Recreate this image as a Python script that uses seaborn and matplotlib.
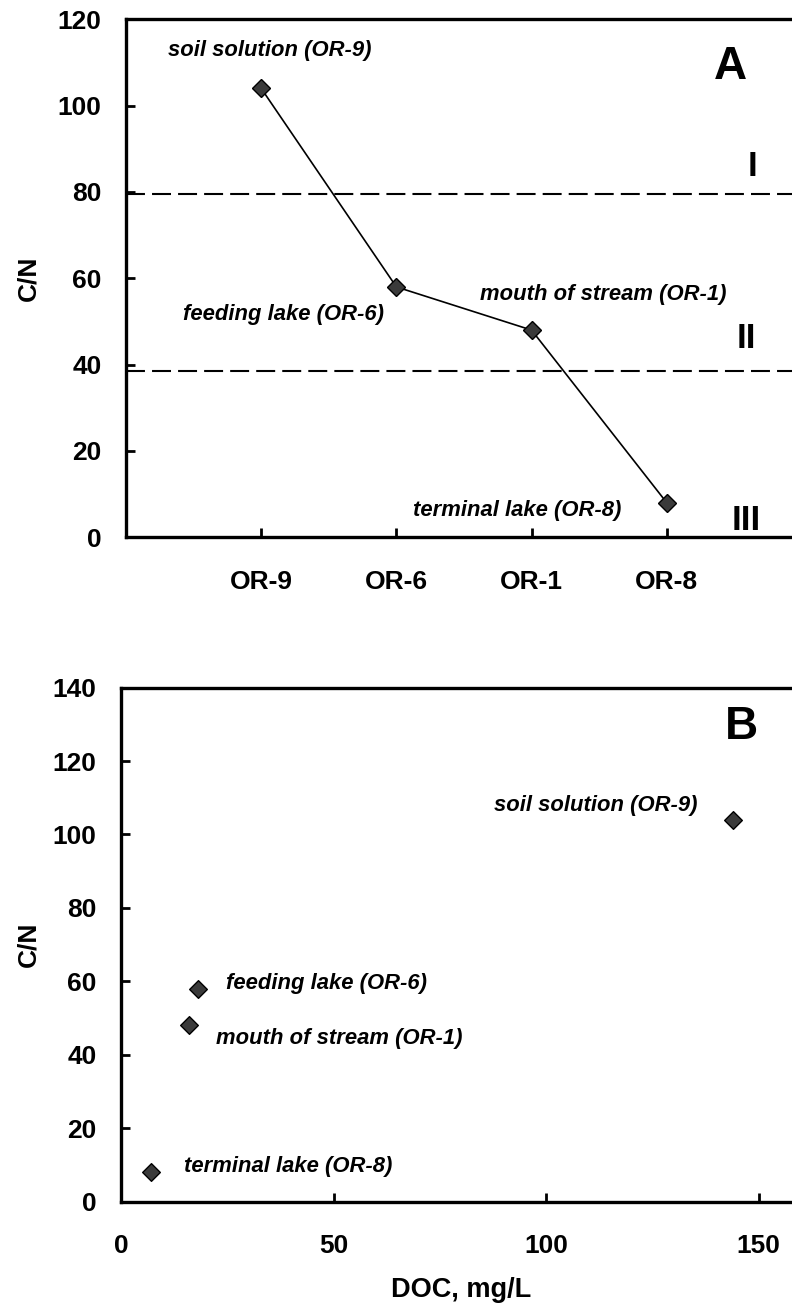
import matplotlib
matplotlib.use("Agg")
import matplotlib.pyplot as plt
import seaborn as sns

# data
sites = ["OR-9", "OR-6", "OR-1", "OR-8"]
cn_ratio = [104, 58, 48, 8]
doc_mgl = [144, 18, 16, 7]
site_names = ["soil solution (OR-9)", "feeding lake (OR-6)",
              "mouth of stream (OR-1)", "terminal lake (OR-8)"]
class_bounds = [79.5, 38.5]
class_names = ["I", "II", "III"]

MARKER_FC = "#3a3a3a"

sns.set_style("ticks")
plt.rcParams["font.family"] = ["Liberation Sans", "DejaVu Sans"]
plt.rcParams["font.weight"] = "bold"
plt.rcParams["text.color"] = "black"
plt.rcParams["axes.labelcolor"] = "black"
plt.rcParams["xtick.color"] = "black"
plt.rcParams["ytick.color"] = "black"


def style_axis(ax, xpad, ypad):
    for side in ["left", "bottom", "top", "right"]:
        ax.spines[side].set_linewidth(2.4)
        ax.spines[side].set_color("black")
    ax.tick_params(direction="in", length=6.5, width=2, labelsize=19,
                   colors="black", labelcolor="black")
    ax.tick_params(axis="x", pad=xpad)
    ax.tick_params(axis="y", pad=ypad)
    for lab in ax.get_xticklabels() + ax.get_yticklabels():
        lab.set_fontweight("bold")


fig = plt.figure(figsize=(7.92, 13.06), dpi=100)
axA = fig.add_axes([0.1591, 0.5886, 0.8535, 0.3966])
axB = fig.add_axes([0.1528, 0.0799, 0.8586, 0.3936])

# ---- panel A: C/N along the flow path
sns.lineplot(x=sites, y=cn_ratio, sort=False, color="black", linewidth=1.2,
             marker="D", markersize=9, markerfacecolor=MARKER_FC,
             markeredgecolor="black", markeredgewidth=1, ax=axA)
for yb in class_bounds:
    axA.axhline(yb, color="black", linewidth=1.5, linestyle=(0, (9.1, 3.4)), zorder=1)

axA.set_xlim(-1, 4)
axA.set_ylim(0, 120)
axA.set_yticks(range(0, 121, 20))
axA.set_ylabel("C/N", fontsize=19, fontweight="bold", color="black")
axA.yaxis.set_label_coords(-0.126, 0.5)
axA.set_xlabel("")

ann_a = [(-0.689, 112.8), (-0.576, 51.5), (1.618, 56.3), (1.123, 6.3)]
for name, (tx, ty) in zip(site_names, ann_a):
    axA.text(tx, ty, name, ha="left", va="center", fontsize=15.8,
             fontweight="bold", style="italic", color="black")
axA.text(3.473, 109, "A", ha="center", va="center", fontsize=33,
         fontweight="bold", color="black")
for name, (tx, ty) in zip(class_names, [(3.635, 86), (3.59, 46), (3.585, 4)]):
    axA.text(tx, ty, name, ha="center", va="center", fontsize=25,
             fontweight="bold", color="black")
style_axis(axA, 23.5, 17.5)

# ---- panel B: C/N vs DOC
sns.scatterplot(x=doc_mgl, y=cn_ratio, marker="D", s=81, color=MARKER_FC,
                edgecolor="black", linewidth=1, ax=axB, zorder=3)
axB.set_xlim(0, 160)
axB.set_ylim(0, 140)
axB.set_xticks([0, 50, 100, 150])
axB.set_yticks(range(0, 141, 20))
axB.set_ylabel("C/N", fontsize=19, fontweight="bold", color="black")
axB.yaxis.set_label_coords(-0.118, 0.5)
axB.set_xlabel("DOC, mg/L", fontsize=19.5, fontweight="bold", color="black")
axB.xaxis.set_label_coords(0.5, -0.1465)

ann_b = [(135.7, 107.8, "right"), (24.7, 59.5, "left"),
         (22.3, 44.5, "left"), (14.9, 9.5, "left")]
for name, (tx, ty, ha) in zip(site_names, ann_b):
    axB.text(tx, ty, name, ha=ha, va="center", fontsize=15.8,
             fontweight="bold", style="italic", color="black")
axB.text(146, 129.3, "B", ha="center", va="center", fontsize=33,
         fontweight="bold", color="black")
style_axis(axB, 23.5, 17.5)

fig.savefig("out.png", dpi=100)
